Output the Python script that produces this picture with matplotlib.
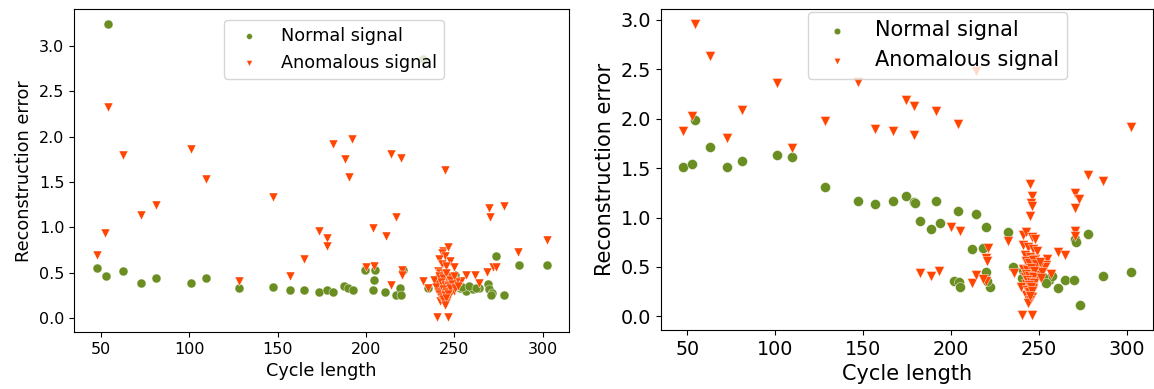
import matplotlib
matplotlib.use('Agg')
import matplotlib.pyplot as plt

GREEN = '#6b8e23'
ORANGE = '#ff4500'

# left panel - normal signal
left_normal_x = [47.5, 52.8, 54.1, 62.6, 72.6, 80.9, 100.9, 109.4, 128.2, 147.1, 156.9,
                 165.0, 173.5, 177.7, 181.4, 187.4, 189.9, 192.4, 199.3, 203.7, 204.6, 205.0,
                 210.6, 217.0, 219.1, 219.5, 221.0, 235.0, 232.3, 244.0, 246.5, 250.2, 249.3,
                 253.0, 256.8, 260.5, 264.0, 269.0, 269.5, 271.0, 270.5, 273.4, 278.1, 286.4, 302.1,
                 251.5, 254.5, 258.5, 262.0]
left_normal_y = [0.55, 0.47, 3.24, 0.52, 0.39, 0.44, 0.39, 0.44, 0.33, 0.34, 0.31,
                 0.31, 0.29, 0.31, 0.29, 0.35, 0.33, 0.31, 0.53, 0.31, 0.42, 0.53,
                 0.29, 0.26, 0.33, 0.26, 0.53, 0.33, 2.85, 0.36, 0.33, 0.48, 0.44,
                 0.33, 0.30, 0.32, 0.33, 0.38, 0.32, 0.28, 0.26, 0.69, 0.26, 0.59, 0.59,
                 0.36, 0.34, 0.35, 0.33]

# left panel - anomalous signal
left_anom_x = [47.5, 52.4, 54.1, 62.6, 72.6, 80.9, 100.9, 109.4, 128.2, 147.1, 156.9,
               165.0, 173.5, 177.7, 177.7, 181.1, 188.0, 190.3, 192.0, 199.9, 203.7, 204.6,
               211.2, 213.9, 213.9, 216.9, 219.5, 220.6, 220.6, 232.3, 235.0, 240.4, 246.1,
               244.6, 269.6, 270.4, 277.9, 286.2, 302.1, 254.0, 256.8, 261.5, 264.0, 268.5,
               271.9, 273.8,
               243.4, 246.5, 242.7, 244.5, 241.4, 247.4, 243.0, 245.0, 249.7, 240.8, 242.0,
               244.0, 246.0, 248.0, 241.0, 243.0, 245.0, 247.0, 249.0, 242.0, 244.0, 246.0,
               248.0, 243.0, 245.0, 247.0, 244.0, 246.0, 245.0, 242.0, 240.0, 250.0, 251.0,
               238.5, 239.5, 241.5, 243.5, 245.5, 247.5, 249.5, 240.5, 242.5, 244.5, 246.5,
               248.5, 241.5, 243.5, 245.5, 247.5, 242.5, 244.5, 246.5, 243.5, 245.5, 244.5,
               250.5, 252.0]
left_anom_y = [0.70, 0.94, 2.33, 1.80, 1.14, 1.25, 1.86, 1.53, 0.41, 1.33, 0.47,
               0.65, 0.96, 0.88, 0.80, 1.92, 1.75, 1.55, 1.97, 0.56, 0.99, 0.57,
               0.90, 1.81, 0.37, 1.12, 1.76, 0.53, 0.48, 0.41, 0.33, 0.01, 0.01,
               1.63, 1.21, 1.11, 1.24, 0.73, 0.86, 0.41, 0.48, 0.48, 0.39, 0.51,
               0.56, 0.56,
               0.74, 0.78, 0.72, 0.68, 0.65, 0.63, 0.60, 0.58, 0.56, 0.52, 0.50,
               0.48, 0.47, 0.45, 0.43, 0.41, 0.40, 0.38, 0.36, 0.35, 0.33, 0.31,
               0.30, 0.28, 0.26, 0.25, 0.22, 0.20, 0.17, 0.19, 0.38, 0.30, 0.40,
               0.42, 0.34, 0.46, 0.44, 0.50, 0.42, 0.46, 0.29, 0.40, 0.37, 0.35,
               0.38, 0.27, 0.32, 0.29, 0.33, 0.23, 0.26, 0.27, 0.21, 0.22, 0.15,
               0.33, 0.36]

# right panel - normal signal
right_normal_x = [47.5, 52.5, 54.1, 62.6, 72.6, 80.9, 100.9, 109.4, 128.2, 147.1, 156.9,
                  167.1, 174.2, 178.9, 179.5, 191.4, 182.6, 188.6, 193.6, 204.2, 214.4, 220.0,
                  201.7, 204.5, 205.0, 212.0, 218.2, 220.0, 222.3, 220.4, 232.6, 235.4,
                  240.7, 241.0, 250.4, 256.0, 257.6, 260.7, 265.0, 270.0, 270.6, 271.0,
                  278.1, 273.3, 286.5, 302.5, 244.0, 247.0, 248.5, 252.5, 254.0]
right_normal_y = [1.51, 1.54, 1.99, 1.71, 1.51, 1.57, 1.63, 1.61, 1.31, 1.17, 1.14,
                  1.17, 1.22, 1.16, 1.15, 1.17, 0.97, 0.88, 0.95, 1.07, 1.04, 0.90,
                  0.36, 0.35, 0.30, 0.68, 0.69, 0.45, 0.30, 0.36, 0.85, 0.50,
                  0.39, 0.47, 0.47, 0.37, 0.41, 0.29, 0.37, 0.37, 0.78, 0.75,
                  0.83, 0.12, 0.41, 0.45, 0.42, 0.36, 0.44, 0.40, 0.34]

# right panel - anomalous signal
right_anom_x = [47.5, 52.5, 54.1, 62.6, 72.6, 80.9, 100.9, 109.4, 128.2, 147.1, 156.9,
                167.1, 174.5, 178.9, 178.9, 191.4, 204.2, 214.4, 302.5, 278.1, 286.5,
                270.6, 272.9, 270.6, 245.2, 246.0, 245.5, 246.3, 245.0, 200.2, 205.1,
                270.4, 270.4, 182.6, 188.6, 193.3, 212.0, 214.4, 220.0, 221.3, 220.0,
                220.5, 218.4, 232.4, 235.8, 240.7, 246.3, 241.0, 260.7, 264.8, 255.0,
                254.0, 257.0, 253.8,
                243.0, 246.0, 248.0, 241.0, 244.0, 247.0, 249.0, 242.0, 245.0, 248.0,
                243.0, 246.0, 250.0, 241.0, 244.0, 247.0, 249.0, 242.0, 245.0, 248.0,
                243.0, 246.0, 244.0, 247.0, 245.0, 243.0, 246.0, 245.0, 244.0, 252.0, 240.0,
                242.5, 244.5, 246.5, 248.5, 243.5, 245.5, 247.5, 242.5, 244.5, 246.5,
                243.5, 245.5, 247.5, 244.5, 246.5, 243.5, 245.5, 244.5, 246.0, 245.0,
                250.5, 251.5]
right_anom_y = [1.88, 2.03, 2.96, 2.64, 1.81, 2.09, 2.36, 1.70, 1.98, 2.37, 1.90,
                1.88, 2.19, 2.13, 1.84, 2.08, 1.95, 2.48, 1.92, 1.43, 1.37,
                1.25, 1.19, 1.10, 1.34, 1.22, 1.15, 1.12, 1.02, 0.90, 0.86,
                0.86, 0.81, 0.44, 0.41, 0.46, 0.34, 0.42, 0.36, 0.69, 0.59,
                0.56, 0.38, 0.76, 0.44, 0.01, 0.01, 0.82, 0.65, 0.62, 0.58,
                0.52, 0.43, 0.50,
                0.85, 0.80, 0.78, 0.72, 0.70, 0.68, 0.66, 0.62, 0.60, 0.58,
                0.55, 0.52, 0.50, 0.48, 0.46, 0.44, 0.42, 0.40, 0.38, 0.36,
                0.33, 0.31, 0.28, 0.27, 0.24, 0.22, 0.20, 0.17, 0.14, 0.45, 0.30,
                0.56, 0.54, 0.57, 0.53, 0.47, 0.49, 0.46, 0.43, 0.41, 0.40,
                0.37, 0.35, 0.34, 0.32, 0.29, 0.27, 0.30, 0.25, 0.26, 0.21,
                0.55, 0.39]

fig = plt.figure(figsize=(11.54, 3.89), dpi=100)
ax1 = fig.add_axes([74 / 1154, 57 / 389, 495 / 1154, 322.7 / 389])
ax2 = fig.add_axes([660.7 / 1154, 59 / 389, 492.6 / 1154, 320.7 / 389])


def draw(ax, nx, ny, axx, ay, tick_fs, label_fs, size, anchor):
    ax.scatter(nx, ny, s=size, c=GREEN, marker='o', edgecolors='white',
               linewidths=0.3, label='Normal signal')
    ax.scatter(axx, ay, s=size, c=ORANGE, marker='v', edgecolors='white',
               linewidths=0.3, label='Anomalous signal')
    ax.set_xlabel('Cycle length', fontsize=label_fs)
    ax.set_ylabel('Reconstruction error', fontsize=label_fs)
    ax.tick_params(labelsize=tick_fs)
    ax.set_xticks([50, 100, 150, 200, 250, 300])
    ax.set_yticks([0.0, 0.5, 1.0, 1.5, 2.0, 2.5, 3.0])
    ax.legend(loc='upper center', bbox_to_anchor=anchor, fontsize=label_fs,
              markerscale=0.65, borderaxespad=0)


draw(ax1, left_normal_x, left_normal_y, left_anom_x, left_anom_y,
     11.5, 12.7, 42, (0.525, 0.967))
draw(ax2, right_normal_x, right_normal_y, right_anom_x, right_anom_y,
     13.8, 15, 52, (0.5625, 0.9925))

plt.savefig('out.png', dpi=100)
